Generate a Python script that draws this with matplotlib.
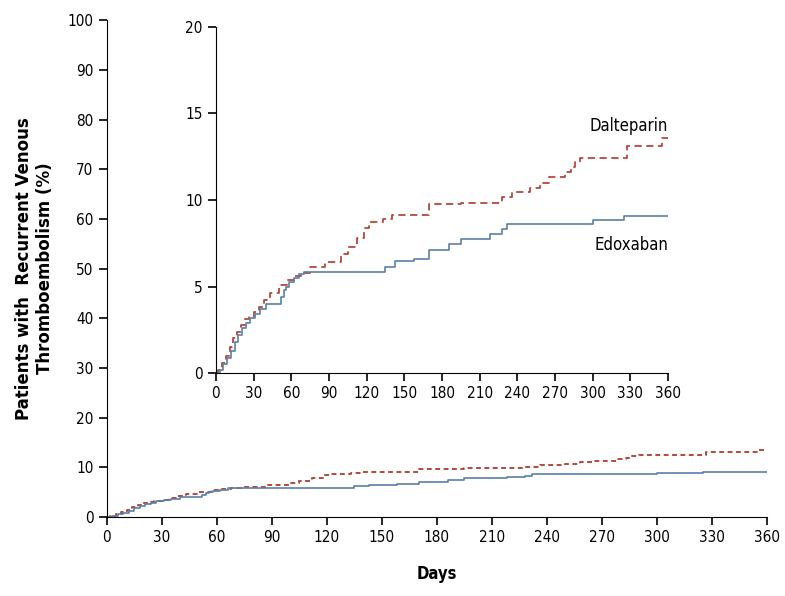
import matplotlib.pyplot as plt

# step curves (day, cumulative %)
dalte_days = [0, 2, 5, 8, 11, 14, 17, 20, 23, 26, 30, 34, 38, 43, 50, 57, 63, 68, 75, 87,
              100, 105, 112, 118, 122, 133, 140, 170, 195, 228, 236, 250, 258, 265, 278,
              283, 286, 290, 327, 355, 360]
dalte_vals = [0, 0.2, 0.6, 1.0, 1.5, 2.0, 2.4, 2.8, 3.1, 3.3, 3.5, 3.8, 4.2, 4.6, 5.1, 5.4, 5.6,
              5.8, 6.1, 6.4, 6.9, 7.3, 7.8, 8.4, 8.7, 8.9, 9.15, 9.75, 9.85, 10.15, 10.45,
              10.7, 11.0, 11.3, 11.6, 11.9, 12.2, 12.45, 13.1, 13.55, 13.55]

edox_days = [0, 3, 6, 9, 12, 15, 18, 21, 24, 27, 31, 35, 40, 52, 54, 56, 58, 62, 66, 70,
             135, 143, 158, 170, 186, 195, 218, 228, 232, 300, 325, 360]
edox_vals = [0, 0.2, 0.5, 0.9, 1.3, 1.8, 2.2, 2.6, 2.9, 3.2, 3.4, 3.7, 4.0, 4.4, 4.8, 5.0,
             5.25, 5.5, 5.75, 5.85, 6.15, 6.45, 6.6, 7.1, 7.45, 7.75, 8.05, 8.3, 8.6, 8.85,
             9.1, 9.1]

day_ticks = list(range(0, 361, 30))
main_yticks = list(range(0, 101, 10))
inset_yticks = [0, 5, 10, 15, 20]

red = '#b5493b'
blue = '#5a7fa8'
plt.rcParams['font.family'] = ['DejaVu Sans']
plt.rcParams['font.stretch'] = 'condensed'

fig = plt.figure(figsize=(7.85, 5.96), dpi=100)

# main plot
ax = fig.add_axes([0.136, 0.1326, 0.841, 0.8334])
ax.step(dalte_days, dalte_vals, where='post', color=red, lw=1.4, ls=(0, (2.5, 1.8)))
ax.step(edox_days, edox_vals, where='post', color=blue, lw=1.2)
ax.set_xlim(0, 360)
ax.set_ylim(0, 100)
ax.set_xticks(day_ticks)
ax.set_yticks(main_yticks)
ax.spines['top'].set_visible(False)
ax.spines['right'].set_visible(False)
ax.tick_params(direction='out', length=6, width=1.2, labelsize=11)
ax.set_xlabel('Days', fontsize=12, fontweight='bold', labelpad=14)
ax.set_ylabel('Patients with  Recurrent Venous\nThromboembolism (%)', fontsize=12,
              fontweight='bold', fontstretch='normal', labelpad=10)

# inset
ins = fig.add_axes([0.275, 0.374, 0.576, 0.581])
ins.step(dalte_days, dalte_vals, where='post', color=red, lw=1.3, ls=(0, (4, 2.5)))
ins.step(edox_days, edox_vals, where='post', color=blue, lw=1.2)
ins.set_xlim(0, 360)
ins.set_ylim(0, 20)
ins.set_xticks(day_ticks)
ins.set_yticks(inset_yticks)
ins.spines['top'].set_visible(False)
ins.spines['right'].set_visible(False)
ins.tick_params(direction='out', length=6, width=1.2, labelsize=11)
ins.patch.set_alpha(0)
ins.text(360, 14.3, 'Dalteparin', ha='right', va='center', fontsize=12)
ins.text(360, 7.4, 'Edoxaban', ha='right', va='center', fontsize=12)

fig.savefig('out.png', dpi=100)
